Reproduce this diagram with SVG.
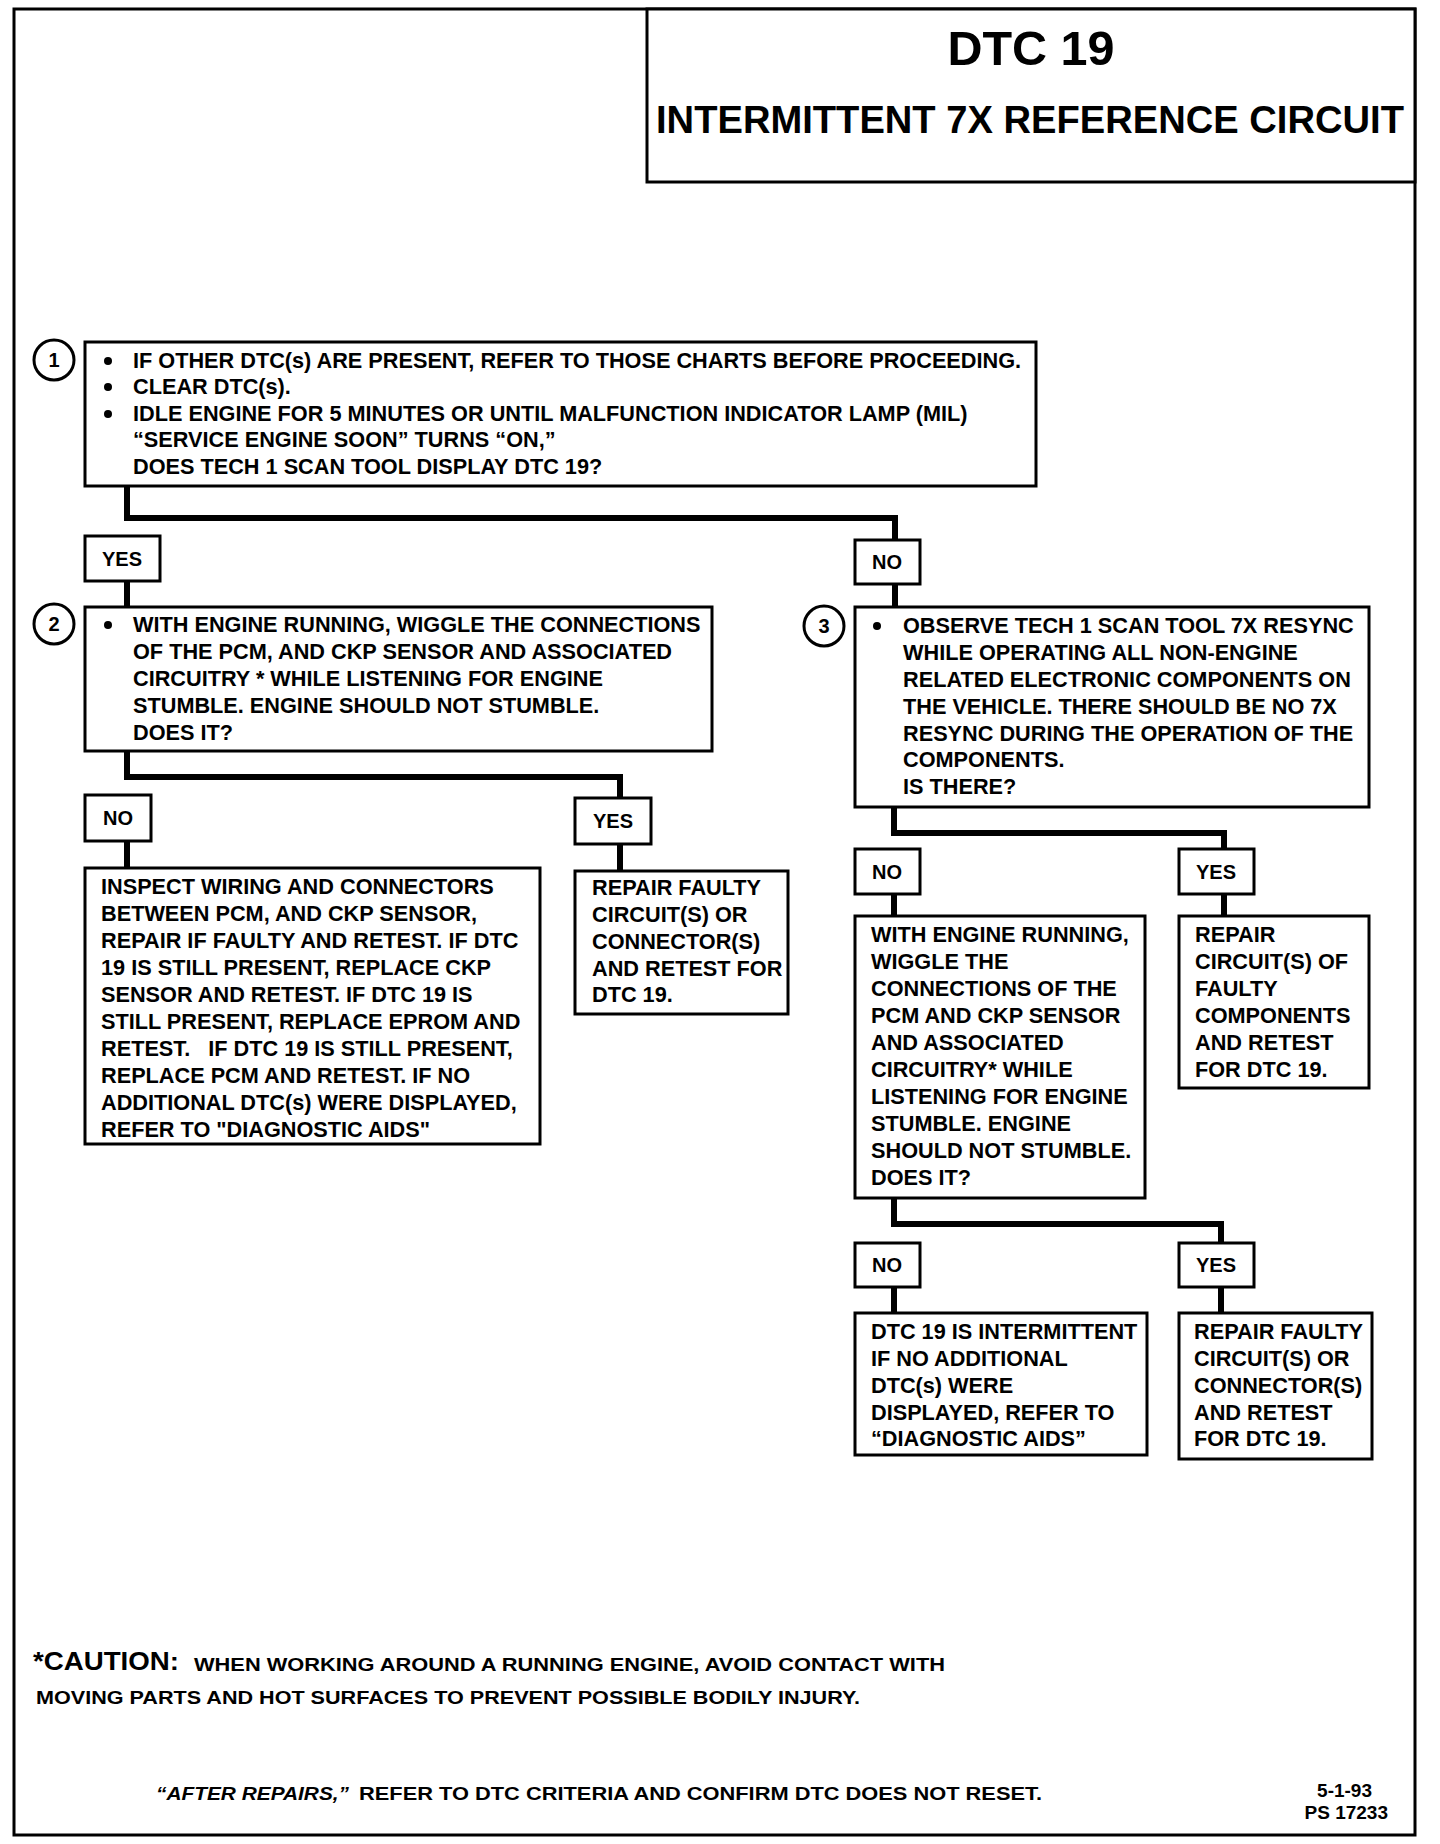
<svg xmlns="http://www.w3.org/2000/svg" width="1440" height="1844" viewBox="0 0 1440 1844">
<style>
  .box { fill: #fff; stroke: #000; stroke-width: 3; }
  .lbl { fill: #fff; stroke: #000; stroke-width: 3; }
  .conn { fill: none; stroke: #000; stroke-width: 6; stroke-linejoin: miter; stroke-linecap: square; }
  .t { font-family: "Liberation Sans", Arial, sans-serif; font-weight: bold; font-size: 21.7px; fill: #000; }
  .lt { font-family: "Liberation Sans", Arial, sans-serif; font-weight: bold; font-size: 20px; fill: #000; text-anchor: middle; }
  .num { font-family: "Liberation Sans", Arial, sans-serif; font-weight: bold; font-size: 20px; fill: #000; text-anchor: middle; }
  .circ { fill: #fff; stroke: #000; stroke-width: 3; }
  .foot { font-family: "Liberation Sans", Arial, sans-serif; font-weight: bold; font-size: 19px; fill: #000; }
</style>
<rect x="0" y="0" width="1440" height="1844" fill="#fff"/>
<rect x="14" y="9" width="1401" height="1826" fill="none" stroke="#000" stroke-width="3"/>

<g id="title">
  <rect x="647" y="9" width="768" height="173" class="box"/>
  <text x="1031" y="65" font-family="Liberation Sans, Arial, sans-serif" font-weight="bold" font-size="49" text-anchor="middle" textLength="167" lengthAdjust="spacingAndGlyphs">DTC 19</text>
  <text x="656" y="133" font-family="Liberation Sans, Arial, sans-serif" font-weight="bold" font-size="39" textLength="748" lengthAdjust="spacingAndGlyphs">INTERMITTENT 7X REFERENCE CIRCUIT</text>
</g>

<g id="connectors">
  <polyline class="conn" points="127,486 127,518 895,518 895,540"/>
  <line class="conn" x1="127" y1="581" x2="127" y2="607"/>
  <line class="conn" x1="895" y1="584" x2="895" y2="607"/>
  <polyline class="conn" points="127,751 127,777 620,777 620,798"/>
  <line class="conn" x1="127" y1="841" x2="127" y2="868"/>
  <line class="conn" x1="620" y1="844" x2="620" y2="871"/>
  <polyline class="conn" points="894,807 894,833 1224,833 1224,849"/>
  <line class="conn" x1="894" y1="894" x2="894" y2="916"/>
  <line class="conn" x1="1224" y1="894" x2="1224" y2="916"/>
  <polyline class="conn" points="894,1198 894,1224 1221,1224 1221,1243"/>
  <line class="conn" x1="894" y1="1287" x2="894" y2="1313"/>
  <line class="conn" x1="1221" y1="1287" x2="1221" y2="1313"/>
</g>

<g id="step1">
  <circle cx="54" cy="360" r="20" class="circ"/>
  <text x="54" y="367" class="num">1</text>
  <rect x="85" y="342" width="951" height="144" class="box"/>
  <circle cx="108" cy="361" r="4"/>
  <circle cx="108" cy="387" r="4"/>
  <circle cx="108" cy="414" r="4"/>
  <text class="t" x="133" y="368">IF OTHER DTC(s) ARE PRESENT, REFER TO THOSE CHARTS BEFORE PROCEEDING.</text>
  <text class="t" x="133" y="394">CLEAR DTC(s).</text>
  <text class="t" x="133" y="421">IDLE ENGINE FOR 5 MINUTES OR UNTIL MALFUNCTION INDICATOR LAMP (MIL)</text>
  <text class="t" x="133" y="447">“SERVICE ENGINE SOON” TURNS “ON,”</text>
  <text class="t" x="133" y="474">DOES TECH 1 SCAN TOOL DISPLAY DTC 19?</text>
</g>

<g id="yes1">
  <rect x="85" y="536" width="75" height="45" class="lbl"/>
  <text x="122" y="566" class="lt">YES</text>
</g>
<g id="no1">
  <rect x="855" y="540" width="65" height="44" class="lbl"/>
  <text x="887" y="569" class="lt">NO</text>
</g>

<g id="step2">
  <circle cx="54" cy="624" r="20" class="circ"/>
  <text x="54" y="631" class="num">2</text>
  <rect x="85" y="607" width="627" height="144" class="box"/>
  <circle cx="108" cy="625" r="4"/>
  <text class="t" x="133" y="632">WITH ENGINE RUNNING, WIGGLE THE CONNECTIONS</text>
  <text class="t" x="133" y="659">OF THE PCM, AND CKP SENSOR AND ASSOCIATED</text>
  <text class="t" x="133" y="686">CIRCUITRY * WHILE LISTENING FOR ENGINE</text>
  <text class="t" x="133" y="713">STUMBLE. ENGINE SHOULD NOT STUMBLE.</text>
  <text class="t" x="133" y="740">DOES IT?</text>
</g>

<g id="step3">
  <circle cx="824" cy="626" r="20" class="circ"/>
  <text x="824" y="633" class="num">3</text>
  <rect x="855" y="607" width="514" height="200" class="box"/>
  <circle cx="877" cy="626" r="4"/>
  <text class="t" x="903" y="633">OBSERVE TECH 1 SCAN TOOL 7X RESYNC</text>
  <text class="t" x="903" y="660">WHILE OPERATING ALL NON-ENGINE</text>
  <text class="t" x="903" y="687">RELATED ELECTRONIC COMPONENTS ON</text>
  <text class="t" x="903" y="714">THE VEHICLE. THERE SHOULD BE NO 7X</text>
  <text class="t" x="903" y="741">RESYNC DURING THE OPERATION OF THE</text>
  <text class="t" x="903" y="767">COMPONENTS.</text>
  <text class="t" x="903" y="794">IS THERE?</text>
</g>

<g id="no2">
  <rect x="85" y="795" width="66" height="46" class="lbl"/>
  <text x="118" y="825" class="lt">NO</text>
</g>
<g id="yes2">
  <rect x="575" y="798" width="76" height="46" class="lbl"/>
  <text x="613" y="828" class="lt">YES</text>
</g>

<g id="inspect">
  <rect x="85" y="868" width="455" height="276" class="box"/>
  <text class="t" x="101" y="894">INSPECT WIRING AND CONNECTORS</text>
  <text class="t" x="101" y="921">BETWEEN PCM, AND CKP SENSOR,</text>
  <text class="t" x="101" y="948">REPAIR IF FAULTY AND RETEST. IF DTC</text>
  <text class="t" x="101" y="975">19 IS STILL PRESENT, REPLACE CKP</text>
  <text class="t" x="101" y="1002">SENSOR AND RETEST. IF DTC 19 IS</text>
  <text class="t" x="101" y="1029">STILL PRESENT, REPLACE EPROM AND</text>
  <text class="t" x="101" y="1056" xml:space="preserve">RETEST.   IF DTC 19 IS STILL PRESENT,</text>
  <text class="t" x="101" y="1083">REPLACE PCM AND RETEST. IF NO</text>
  <text class="t" x="101" y="1110">ADDITIONAL DTC(s) WERE DISPLAYED,</text>
  <text class="t" x="101" y="1137">REFER TO "DIAGNOSTIC AIDS"</text>
</g>

<g id="repair1">
  <rect x="575" y="871" width="213" height="143" class="box"/>
  <text class="t" x="592" y="895">REPAIR FAULTY</text>
  <text class="t" x="592" y="922">CIRCUIT(S) OR</text>
  <text class="t" x="592" y="949">CONNECTOR(S)</text>
  <text class="t" x="592" y="976">AND RETEST FOR</text>
  <text class="t" x="592" y="1002">DTC 19.</text>
</g>

<g id="no3">
  <rect x="855" y="849" width="65" height="45" class="lbl"/>
  <text x="887" y="879" class="lt">NO</text>
</g>
<g id="yes3">
  <rect x="1179" y="849" width="75" height="45" class="lbl"/>
  <text x="1216" y="879" class="lt">YES</text>
</g>

<g id="wiggle">
  <rect x="855" y="916" width="290" height="282" class="box"/>
  <text class="t" x="871" y="942">WITH ENGINE RUNNING,</text>
  <text class="t" x="871" y="969">WIGGLE THE</text>
  <text class="t" x="871" y="996">CONNECTIONS OF THE</text>
  <text class="t" x="871" y="1023">PCM AND CKP SENSOR</text>
  <text class="t" x="871" y="1050">AND ASSOCIATED</text>
  <text class="t" x="871" y="1077">CIRCUITRY* WHILE</text>
  <text class="t" x="871" y="1104">LISTENING FOR ENGINE</text>
  <text class="t" x="871" y="1131">STUMBLE. ENGINE</text>
  <text class="t" x="871" y="1158">SHOULD NOT STUMBLE.</text>
  <text class="t" x="871" y="1185">DOES IT?</text>
</g>

<g id="repair2">
  <rect x="1179" y="916" width="190" height="172" class="box"/>
  <text class="t" x="1195" y="942">REPAIR</text>
  <text class="t" x="1195" y="969">CIRCUIT(S) OF</text>
  <text class="t" x="1195" y="996">FAULTY</text>
  <text class="t" x="1195" y="1023">COMPONENTS</text>
  <text class="t" x="1195" y="1050">AND RETEST</text>
  <text class="t" x="1195" y="1077">FOR DTC 19.</text>
</g>

<g id="no4">
  <rect x="855" y="1243" width="65" height="44" class="lbl"/>
  <text x="887" y="1272" class="lt">NO</text>
</g>
<g id="yes4">
  <rect x="1179" y="1243" width="75" height="44" class="lbl"/>
  <text x="1216" y="1272" class="lt">YES</text>
</g>

<g id="intermittent">
  <rect x="855" y="1313" width="292" height="142" class="box"/>
  <text class="t" x="871" y="1339">DTC 19 IS INTERMITTENT</text>
  <text class="t" x="871" y="1366">IF NO ADDITIONAL</text>
  <text class="t" x="871" y="1393">DTC(s) WERE</text>
  <text class="t" x="871" y="1420">DISPLAYED, REFER TO</text>
  <text class="t" x="871" y="1446">“DIAGNOSTIC AIDS”</text>
</g>

<g id="repair3">
  <rect x="1179" y="1313" width="193" height="146" class="box"/>
  <text class="t" x="1194" y="1339">REPAIR FAULTY</text>
  <text class="t" x="1194" y="1366">CIRCUIT(S) OR</text>
  <text class="t" x="1194" y="1393">CONNECTOR(S)</text>
  <text class="t" x="1194" y="1420">AND RETEST</text>
  <text class="t" x="1194" y="1446">FOR DTC 19.</text>
</g>

<g id="notes">
  <text x="33" y="1670" font-family="Liberation Sans, Arial, sans-serif" font-weight="bold" font-size="26" textLength="146" lengthAdjust="spacingAndGlyphs">*CAUTION:</text>
  <text x="194" y="1671" class="foot" textLength="751" lengthAdjust="spacingAndGlyphs">WHEN WORKING AROUND A RUNNING ENGINE, AVOID CONTACT WITH</text>
  <text x="36" y="1704" class="foot" textLength="824" lengthAdjust="spacingAndGlyphs">MOVING PARTS AND HOT SURFACES TO PREVENT POSSIBLE BODILY INJURY.</text>
  <text x="156" y="1800" class="foot" font-style="italic" textLength="193" lengthAdjust="spacingAndGlyphs">“AFTER REPAIRS,”</text>
  <text x="359" y="1800" class="foot" textLength="683" lengthAdjust="spacingAndGlyphs">REFER TO DTC CRITERIA AND CONFIRM DTC DOES NOT RESET.</text>
  <text x="1372" y="1797" class="foot" text-anchor="end">5-1-93</text>
  <text x="1388" y="1819" class="foot" text-anchor="end">PS 17233</text>
</g>
</svg>
